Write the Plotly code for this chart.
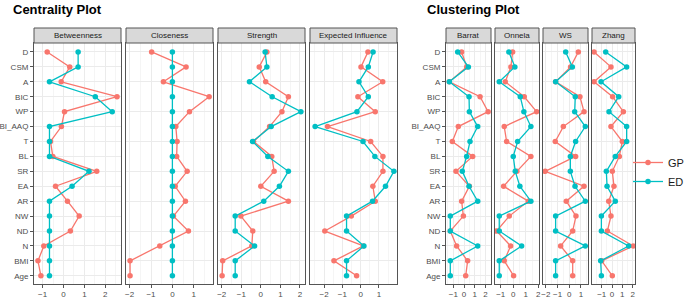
import plotly.graph_objects as go

categories = ["D", "CSM", "A", "BIC", "WP", "BI_AAQ", "T", "BL", "SR", "EA",
              "AR", "NW", "ND", "N", "BMI", "Age"]

betweenness_gp = [-0.78, 0.30, -0.11, 2.56, 0.05, -0.10, -0.62, -0.51, 1.59, -0.38, 0.19, 0.75, 0.33, -0.94, -1.22, -1.08]
betweenness_ed = [0.70, 0.70, -0.67, 1.52, 2.33, -0.67, -0.67, -0.67, 1.22, 0.41, -0.67, -0.67, -0.67, -0.67, -0.67, -0.67]
closeness_gp = [-0.97, 0.64, -0.42, 1.72, 0.80, 0.16, 0.22, 0.20, 0.69, 0.13, 0.61, 0.05, 0.75, -0.59, -1.98, -1.98]
closeness_ed = [0.0] * 16
strength_gp = [0.31, -0.08, 0.25, 1.41, 1.08, 0.45, -0.37, 0.56, 0.68, 0.00, 1.41, -1.02, -0.41, -0.46, -1.95, -1.98]
strength_ed = [0.22, 0.31, -0.58, 0.58, 2.05, 0.53, -0.42, 0.36, 1.41, 0.95, 0.15, -1.31, -1.31, -0.32, -1.31, -1.31]
expinf_gp = [0.40, 0.02, 1.21, -0.15, 0.80, -1.81, 0.55, 1.22, 1.22, 0.67, 0.80, -0.51, -1.96, 0.15, -1.46, -0.22]
expinf_ed = [0.68, 0.42, -0.09, 0.42, -0.20, -2.49, 0.13, 0.78, 1.82, 1.36, 0.65, -0.77, -0.77, 0.18, -0.77, -0.77]

barrat_gp = [-0.22, 0.25, -1.37, 1.50, 2.25, -0.53, -1.09, 0.81, -0.75, 0.50, -0.22, -0.06, -1.28, -0.69, 0.34, 0.16]
barrat_ed = [-0.59, 0.41, -1.37, 0.47, 0.50, 1.28, 0.56, 0.25, -0.16, 0.47, 1.28, -1.28, -1.28, 1.28, -1.28, -1.28]
onnela_gp = [-0.05, -0.19, -0.64, 0.88, 1.87, -0.72, -0.53, 1.41, 0.29, -0.77, 1.20, -0.32, -1.33, -0.21, -0.72, 0.03]
onnela_ed = [-0.35, 0.13, -1.12, 0.56, 0.85, 1.41, 0.35, 0.00, 0.16, 0.53, 1.41, -1.12, -1.12, 0.67, -1.12, -1.12]
ws_gp = [0.77, 0.11, -1.17, 0.91, 1.26, -0.51, -1.20, 0.54, -2.06, 1.26, -0.26, 0.57, 0.29, -0.74, 0.29, 0.29]
ws_ed = [-0.31, 0.26, -1.17, 0.51, 0.46, 1.37, 0.54, 0.09, 0.09, 0.49, 1.37, -1.17, -1.17, 1.37, -1.17, -1.17]
zhang_gp = [-1.74, -0.10, -1.74, 0.06, 1.10, -0.10, 1.00, 0.71, 0.03, 0.19, -0.32, -0.10, -0.45, 2.06, -1.00, 0.03]
zhang_ed = [-0.61, 1.42, -1.06, 0.65, -0.29, 1.42, 1.42, 0.32, -0.55, -0.48, 0.32, -1.03, -1.03, 1.61, -1.10, -1.03]

panel_titles = ["Betweenness", "Closeness", "Strength", "Expected Influence",
                "Barrat", "Onnela", "WS", "Zhang"]
panel_gp = [betweenness_gp, closeness_gp, strength_gp, expinf_gp, barrat_gp, onnela_gp, ws_gp, zhang_gp]
panel_ed = [betweenness_ed, closeness_ed, strength_ed, expinf_ed, barrat_ed, onnela_ed, ws_ed, zhang_ed]
panel_xrange = [[-1.41, 2.75], [-2.17, 1.9], [-2.19, 2.26], [-2.77, 1.99],
                [-1.68, 2.52], [-1.46, 2.06], [-2.25, 1.6], [-1.94, 2.23]]

W, H = 685, 298
panel_px = [(34, 121), (126, 213), (218, 305), (310, 397),
            (446, 491), (495, 539), (543, 588), (592, 635)]
plot_top, plot_bot = 43, 284
strip_top = 28

GP_COL = "#F8766D"
ED_COL = "#00BFC4"
FONT = "Liberation Sans, Arial, sans-serif"

fig = go.Figure()
layout = dict(
    width=W, height=H, margin=dict(l=0, r=0, t=0, b=0, autoexpand=False),
    paper_bgcolor="white", plot_bgcolor="white",
    font=dict(family=FONT),
    showlegend=True,
    legend=dict(x=628 / W, y=1 - 148 / H, xanchor="left", yanchor="top",
                font=dict(size=11, color="#1A1A1A", family=FONT),
                bgcolor="rgba(0,0,0,0)", itemwidth=30, tracegroupgap=0),
)
shapes = []
annotations = []

for i, title in enumerate(panel_titles):
    n = i + 1
    xa = "x" if n == 1 else f"x{n}"
    ya = "y" if n == 1 else f"y{n}"
    xkey = "xaxis" if n == 1 else f"xaxis{n}"
    ykey = "yaxis" if n == 1 else f"yaxis{n}"
    x0, x1 = panel_px[i]
    first = i in (0, 4)
    layout[xkey] = dict(
        domain=[x0 / W, x1 / W], anchor=ya, range=panel_xrange[i],
        dtick=1, tick0=0, showgrid=True, gridcolor="#EBEBEB", gridwidth=1,
        minor=dict(dtick=0.5, tick0=0, showgrid=True, gridcolor="#F5F5F5", gridwidth=0.6),
        zeroline=False, showline=True, mirror=True, linecolor="#555555", linewidth=1,
        ticks="outside", ticklen=3, tickcolor="#555555", automargin=False,
        ticklabelstandoff=-1,
        tickfont=dict(size=8, color="#4D4D4D", family=FONT), fixedrange=True,
    )
    layout[ykey] = dict(
        domain=[1 - plot_bot / H, 1 - plot_top / H], anchor=xa,
        type="category", categoryarray=categories, categoryorder="array",
        range=[15.55, -0.6], showgrid=True, gridcolor="#EBEBEB", gridwidth=1,
        zeroline=False, showline=True, mirror=True, linecolor="#555555", linewidth=1,
        showticklabels=first, ticks="outside" if first else "", ticklen=3,
        tickcolor="#555555", tickfont=dict(size=8, color="#4D4D4D", family=FONT),
        automargin=False, fixedrange=True,
    )
    fig.add_trace(go.Scatter(
        x=panel_gp[i], y=categories, xaxis=xa, yaxis=ya, mode="lines+markers",
        name="GP", legendgroup="GP", showlegend=(i == 0),
        line=dict(color=GP_COL, width=1.3), marker=dict(color=GP_COL, size=5.5),
    ))
    fig.add_trace(go.Scatter(
        x=panel_ed[i], y=categories, xaxis=xa, yaxis=ya, mode="lines+markers",
        name="ED", legendgroup="ED", showlegend=(i == 0),
        line=dict(color=ED_COL, width=1.3), marker=dict(color=ED_COL, size=5.5),
    ))
    shapes.append(dict(type="rect", xref="paper", yref="paper",
                       x0=x0 / W, x1=x1 / W, y0=1 - plot_top / H, y1=1 - strip_top / H,
                       fillcolor="#D9D9D9", line=dict(color="#555555", width=1)))
    annotations.append(dict(xref="paper", yref="paper", x=(x0 + x1) / 2 / W,
                            y=1 - (strip_top + plot_top) / 2 / H, text=title,
                            showarrow=False, xanchor="center", yanchor="middle",
                            font=dict(size=8, color="#1A1A1A", family=FONT)))

annotations.append(dict(xref="paper", yref="paper", x=11 / W, y=1 - 10 / H,
                        text="<b>Centrality Plot</b>", showarrow=False,
                        xanchor="left", yanchor="middle",
                        font=dict(size=13, color="black", family=FONT)))
annotations.append(dict(xref="paper", yref="paper", x=425 / W, y=1 - 10 / H,
                        text="<b>Clustering Plot</b>", showarrow=False,
                        xanchor="left", yanchor="middle",
                        font=dict(size=13, color="black", family=FONT)))

layout["shapes"] = shapes
layout["annotations"] = annotations
fig.update_layout(**layout)
fig.write_html("out.html", config={"displayModeBar": False},
               post_script="document.body.style.margin='0';")
